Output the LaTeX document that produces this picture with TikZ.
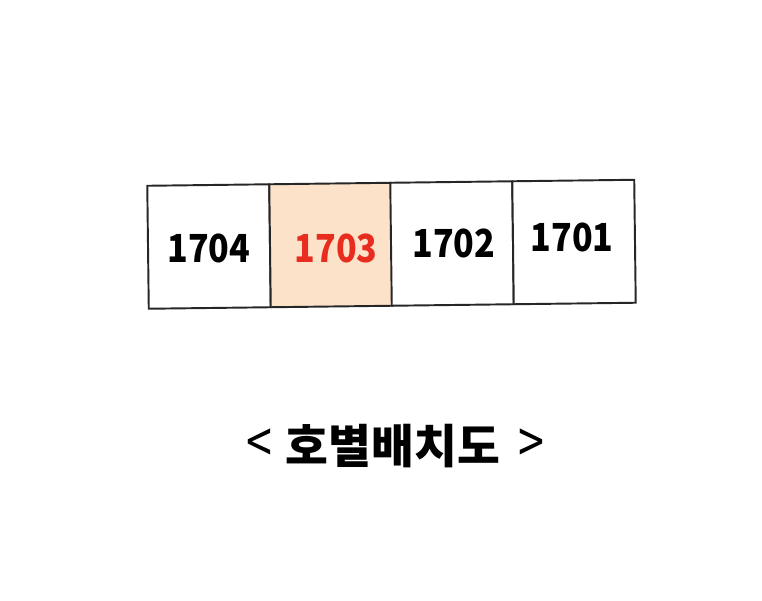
\documentclass[tikz,border=0pt]{standalone}
\usepackage{fontspec}
\setmainfont{Noto Sans CJK KR}
\definecolor{peach}{RGB}{252,226,200}
\definecolor{redno}{RGB}{232,44,30}
\begin{document}
\begin{tikzpicture}
	[	x=0.02cm,y=-0.02cm,
	unit/.style={rectangle,draw=black!85,line width=1.1pt,fill=white,minimum width=2.44cm,minimum height=2.46cm,inner sep=0pt,rotate=0.7},
	num/.style={draw=none,fill=none,font=\bfseries\fontsize{22}{24}\selectfont,xscale=0.88},
	title/.style={draw=none,fill=none,font=\bfseries\fontsize{26.5}{30}\selectfont}
	]
	\useasboundingbox (0,0) rectangle (762,600);
	\node[unit] (u1704) at (209,246.5){};
	\node[unit,fill=peach] (u1703) at (331,245){};
	\node[unit] (u1702) at (452,243.5){};
	\node[unit] (u1701) at (574,242){};
\node[num] (n1704) at (209,248){1704};
\node[num,text=redno] (n1703) at (336,248){1703};
\node[num] (n1702) at (454,243){1702};
\node[num] (n1701) at (572,237){1701};
	\node[title] (cap) at (395,446){{\mdseries\scalebox{1}[1.25]{<}}\hspace{0.28cm}호별배치도\hspace{0.36cm}{\mdseries\scalebox{1}[1.25]{>}}};
\end{tikzpicture}
\end{document}
